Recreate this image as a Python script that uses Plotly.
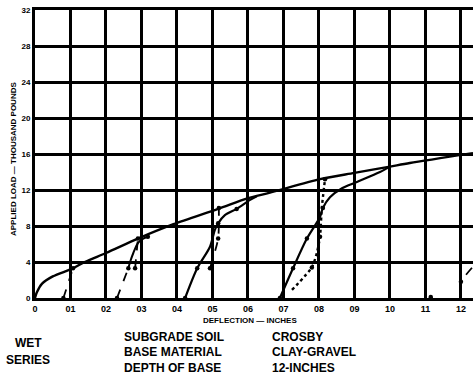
import plotly.graph_objects as go

# Envelope (virgin loading) curve
env_x = [0, 0.0005, 0.002, 0.005, 0.0107, 0.014, 0.02, 0.029, 0.039, 0.0516, 0.06, 0.0662, 0.0803, 0.09, 0.1, 0.1056, 0.1234]
env_y = [0, 0.6, 1.6, 2.4, 3.3, 4.0, 5.0, 6.6, 8.2, 9.9, 11.1, 11.7, 13.2, 13.9, 14.6, 15.0, 16.1]

# Reload cycles: solid parts
c2s_x = [0.0263, 0.0268, 0.0277, 0.029, 0.0305, 0.0318]
c2s_y = [3.3, 4.0, 5.0, 6.1, 6.6, 6.8]
c3s_x = [0.0423, 0.0457, 0.0493, 0.0507, 0.0516, 0.0535, 0.0568, 0.0606, 0.0625]
c3s_y = [0, 3.3, 5.7, 7.6, 8.3, 9.2, 9.9, 10.9, 11.3]
c4s_x = [0.069, 0.0727, 0.0766, 0.0803, 0.0811, 0.0831, 0.0865, 0.0907, 0.0972, 0.1]
c4s_y = [0, 3.3, 6.6, 9.0, 10.0, 11.2, 12.2, 12.9, 14.0, 14.6]

# Reload cycles: dashed parts
c1d_x = [0.008, 0.0107]
c1d_y = [0, 3.3]
c2d_x = [0.0231, 0.0263]
c2d_y = [0, 3.3]
c2e_x = [0.0282, 0.029]
c2e_y = [3.3, 6.6]
c3d_x = [0.0493, 0.0516, 0.0518]
c3d_y = [3.3, 6.6, 10.0]
c4d_x = [0.0724, 0.078, 0.0794, 0.0803, 0.0808, 0.0817]
c4d_y = [0.9, 3.4, 5.0, 6.8, 10.0, 13.2]
c5d_x = [0.1198, 0.12, 0.1232]
c5d_y = [0.8, 1.8, 3.4]

# Observed points
pt_x = [0.0107, 0.008, 0.0231, 0.0263, 0.0282, 0.029, 0.0318, 0.0423, 0.0457, 0.0493,
        0.0516, 0.0516, 0.0518, 0.0568, 0.069, 0.0727, 0.0766, 0.0811, 0.078, 0.0803,
        0.0817, 0.1115, 0.12]
pt_y = [3.3, 0, 0, 3.3, 3.3, 6.6, 6.8, 0, 3.3, 3.3,
        8.3, 6.6, 10.0, 9.9, 0, 3.3, 6.6, 10.0, 3.4, 6.8,
        13.2, 0.1, 1.8]

x_ticks = [0, 0.01, 0.02, 0.03, 0.04, 0.05, 0.06, 0.07, 0.08, 0.09, 0.10, 0.11, 0.12]
x_labels = ["0", "01", "02", "03", "04", "05", "06", "07", "08", "09", "10", "11", "12"]
y_ticks = [0, 4, 8, 12, 16, 20, 24, 28, 32]
y_labels = ["0", "4", "8", "12", "16", "20", "24", "28", "32"]

left_col = ["SUBGRADE SOIL", "BASE MATERIAL", "DEPTH OF BASE"]
right_col = ["CROSBY", "CLAY-GRAVEL", "12-INCHES"]

W, H = 473, 375
ML, MT, MB = 35, 10, 77
PW, PH = W - ML, H - MT - MB

fig = go.Figure()

def solid(x, y, w=2.4):
    fig.add_trace(go.Scatter(x=x, y=y, mode="lines",
                             line=dict(color="black", width=w, shape="spline", smoothing=0.8),
                             hoverinfo="skip", showlegend=False))

def dashed(x, y, dash="dash", w=1.8):
    fig.add_trace(go.Scatter(x=x, y=y, mode="lines",
                             line=dict(color="black", width=w, dash=dash, shape="spline", smoothing=0.6),
                             hoverinfo="skip", showlegend=False))

solid(env_x, env_y)
solid(c2s_x, c2s_y, 2.0)
solid(c3s_x, c3s_y, 2.2)
solid(c4s_x, c4s_y, 2.2)
dashed(c1d_x, c1d_y)
dashed(c2d_x, c2d_y)
dashed(c2e_x, c2e_y)
dashed(c3d_x, c3d_y)
dashed(c4d_x, c4d_y, dash="dot", w=2.4)
dashed(c5d_x, c5d_y)

fig.add_trace(go.Scatter(x=pt_x, y=pt_y, mode="markers", marker=dict(color="black", size=4.5),
                         hoverinfo="skip", showlegend=False))

FAM = "Liberation Sans"

def bfont(size):
    return dict(family=FAM, color="black", size=size, weight=900)

fig.update_layout(
    width=W, height=H,
    margin=dict(l=ML, r=0, t=MT, b=MB),
    paper_bgcolor="white", plot_bgcolor="white",
    showlegend=False,
    xaxis=dict(range=[0, 0.1234], tickvals=x_ticks, ticktext=x_labels, showgrid=True,
               gridcolor="black", gridwidth=2.5, showline=True, linecolor="black", linewidth=3,
               mirror=True, zeroline=False, ticks="", tickfont=bfont(9)),
    yaxis=dict(range=[0, 32], tickvals=y_ticks, ticktext=y_labels, showgrid=True,
               gridcolor="black", gridwidth=2.5, showline=True, linecolor="black", linewidth=3,
               zeroline=False, ticks="", tickfont=bfont(8)),
)

def put(text, px, py, size, anchor="center", angle=0):
    fig.add_annotation(text=text, xref="paper", yref="paper",
                       x=(px - ML) / PW, y=(H - MB - py) / PH, showarrow=False,
                       textangle=angle, xanchor=anchor, yanchor="middle", font=bfont(size))

put("APPLIED LOAD — THOUSAND POUNDS", 13, 159, 8, angle=-90)
put("DEFLECTION — INCHES", 250, 320, 8)
put("WET", 28, 343, 12)
put("SERIES", 28, 360, 12)
for lt, rt, yy in zip(left_col, right_col, [337, 352, 368]):
    put(lt, 122, yy, 12, anchor="left")
    put(rt, 270, yy, 12, anchor="left")

fig.write_html("out.html")
